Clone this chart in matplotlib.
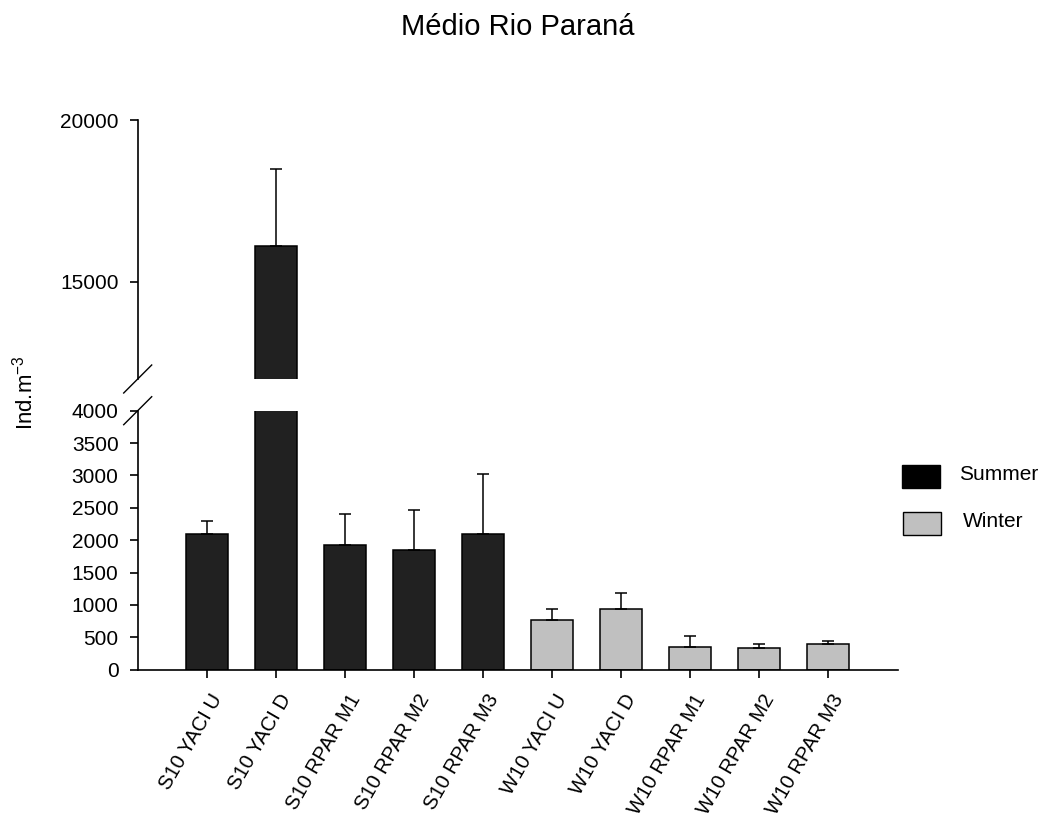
import matplotlib
matplotlib.use("Agg")
import matplotlib.pyplot as plt
import matplotlib.transforms as mtransforms
from matplotlib.patches import Rectangle
import numpy as np

plt.rcParams['font.family'] = ['Liberation Sans', 'DejaVu Sans']
plt.rcParams['mathtext.fontset'] = 'custom'
plt.rcParams['mathtext.rm'] = 'Liberation Sans'
plt.rcParams['mathtext.default'] = 'regular'

categories = ["S10 YACI U", "S10 YACI D", "S10 RPAR M1", "S10 RPAR M2", "S10 RPAR M3",
              "W10 YACI U", "W10 YACI D", "W10 RPAR M1", "W10 RPAR M2", "W10 RPAR M3"]
means = [2100, 16100, 1920, 1850, 2100, 760, 940, 345, 330, 400]
errors = [200, 2400, 480, 620, 915, 180, 245, 170, 65, 50]
seasons = ["Summer"] * 5 + ["Winter"] * 5
season_colors = {"Summer": "#212121", "Winter": "#c0c0c0"}
legend_colors = {"Summer": "#000000", "Winter": "#c0c0c0"}

W, H = 1045, 824
fig = plt.figure(figsize=(W / 100, H / 100), dpi=100)
left, width = 137.7 / W, (898 - 137.7) / W
panel_h = 259 / H
top_bottom = 1 - 379 / H
bot_bottom = 1 - 669.7 / H
ax_top = fig.add_axes([left, top_bottom, width, panel_h])
ax_bot = fig.add_axes([left, bot_bottom, width, panel_h])

x = np.arange(len(categories))
colors = [season_colors[s] for s in seasons]

for ax in (ax_top, ax_bot):
    ax.bar(x, means, width=0.61, color=colors, edgecolor="black", linewidth=1.1,
           yerr=[np.zeros(len(errors)), errors], capsize=4.3,
           error_kw=dict(ecolor="black", elinewidth=1.1, capthick=1.1), zorder=2)
    ax.set_xlim(-1, 10.02)
    for side in ("top", "right"):
        ax.spines[side].set_visible(False)
    ax.spines["left"].set_linewidth(1.2)
    ax.tick_params(axis="y", direction="out", length=5.8, width=1.2, labelsize=15, pad=8)

ax_top.set_ylim(12000, 20000)
ax_top.set_yticks([15000, 20000])
ax_top.spines["bottom"].set_visible(False)
ax_top.tick_params(axis="x", bottom=False, labelbottom=False)

ax_bot.set_ylim(0, 4000)
ax_bot.set_yticks(np.arange(0, 4001, 500))
ax_bot.spines["bottom"].set_linewidth(1.2)
ax_bot.set_xticks(x)
ax_bot.set_xticklabels(categories, rotation=60, ha="right", rotation_mode="anchor", fontsize=14.6)
ax_bot.tick_params(axis="x", direction="out", length=5.8, width=1.2, pad=9.5)
shift = mtransforms.ScaledTranslation(3 / 100, 0, fig.dpi_scale_trans)
for lab in ax_bot.get_xticklabels():
    lab.set_transform(lab.get_transform() + shift)

# Axis break marks on the left spine
d = 14 / W
dy = 14 / H
for yb in (top_bottom, bot_bottom + panel_h):
    fig.add_artist(plt.Line2D([left - d, left + d], [yb - dy, yb + dy],
                              color="black", linewidth=1.0, transform=fig.transFigure))

fig.text(518 / W, 1 - 35 / H, "Médio Rio Paraná", ha="center", va="baseline", fontsize=21)
fig.text(25 / W, 1 - 393 / H, "Ind.m$^{-3}$", rotation=90, ha="center", va="center", fontsize=16)

# Legend
for i, s in enumerate(["Summer", "Winter"]):
    yc = 1 - (476 + 47 * i) / H
    fig.add_artist(Rectangle(((902 + i) / W, yc - 11.5 / H), 38 / W, 23 / H,
                             facecolor=legend_colors[s], edgecolor="black", linewidth=1.0,
                             transform=fig.transFigure))
    fig.text((959 + 4 * i) / W, yc + 1.5 / H, s, ha="left", va="center", fontsize=15)

fig.savefig("out.png", dpi=100)
